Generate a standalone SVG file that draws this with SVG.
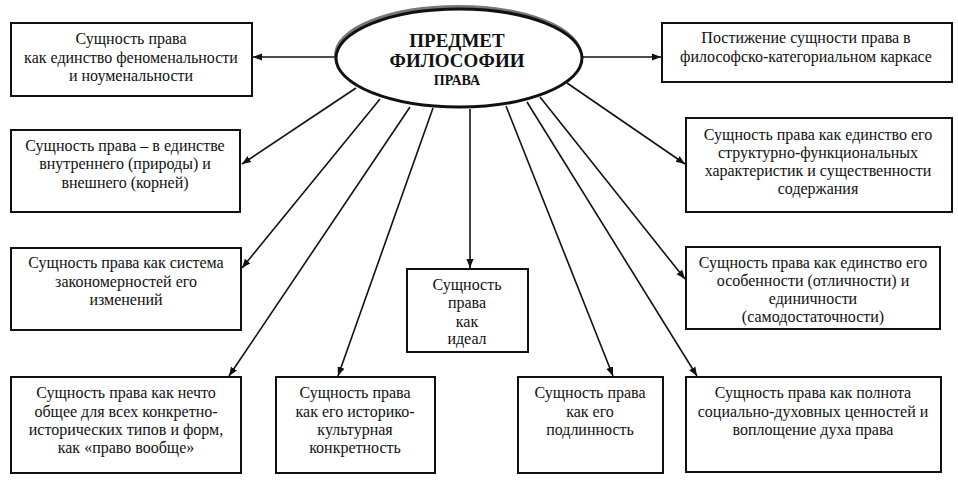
<svg xmlns="http://www.w3.org/2000/svg" width="958" height="494" viewBox="0 0 958 494">
<defs>
<marker id="ah" viewBox="0 0 10 10" refX="10" refY="5" markerWidth="9" markerHeight="9" markerUnits="userSpaceOnUse" orient="auto">
<path d="M0,1 L10,5 L0,9 Z" fill="#111"/>
</marker>
<style>
.box{fill:#fff;stroke:#111;stroke-width:2}
.t{font-family:"Liberation Serif","Times New Roman",serif;font-size:16px;fill:#111;text-anchor:middle}
.h{font-family:"Liberation Serif","Times New Roman",serif;font-weight:bold;fill:#111;text-anchor:middle}
.c{stroke:#111;stroke-width:1.6;fill:none;marker-end:url(#ah)}
</style>
</defs>
<rect width="958" height="494" fill="#fff"/>
<g id="connectors">
<line class="c" x1="336" y1="57" x2="253" y2="57"/>
<line class="c" x1="583" y1="57" x2="661" y2="57"/>
<line class="c" x1="356" y1="88" x2="242" y2="164"/>
<line class="c" x1="380" y1="99" x2="242" y2="268"/>
<line class="c" x1="410" y1="107" x2="229" y2="376"/>
<line class="c" x1="433" y1="108" x2="338" y2="376"/>
<line class="c" x1="470" y1="109" x2="470" y2="268"/>
<line class="c" x1="506" y1="106" x2="613" y2="376"/>
<line class="c" x1="527" y1="102" x2="697" y2="376"/>
<line class="c" x1="540" y1="97" x2="685" y2="279"/>
<line class="c" x1="567" y1="83" x2="685" y2="164"/>
</g>
<g id="center">
<ellipse cx="458" cy="55" rx="122" ry="48" fill="none" stroke="#777" stroke-width="4"/>
<ellipse cx="459" cy="58" rx="123" ry="49" fill="#fff" stroke="#111" stroke-width="3"/>
<text class="h" x="457" y="47" font-size="19">ПРЕДМЕТ</text>
<text class="h" x="457" y="67" font-size="19">ФИЛОСОФИИ</text>
<text class="h" x="457" y="85" font-size="14">ПРАВА</text>
</g>
<g id="n1">
<rect class="box" x="11" y="23" width="241" height="73"/>
<text class="t" x="131" y="44">Сущность права</text>
<text class="t" x="131" y="63">как единство феноменальности</text>
<text class="t" x="131" y="81">и ноуменальности</text>
</g>
<g id="n2">
<rect class="box" x="11" y="130" width="229" height="82"/>
<text class="t" x="125" y="151">Сущность права – в единстве</text>
<text class="t" x="125" y="169">внутреннего (природы) и</text>
<text class="t" x="125" y="188">внешнего (корней)</text>
</g>
<g id="n3">
<rect class="box" x="11" y="248" width="230" height="82"/>
<text class="t" x="126" y="268">Сущность права как система</text>
<text class="t" x="126" y="287">закономерностей его</text>
<text class="t" x="126" y="305">изменений</text>
</g>
<g id="n4">
<rect class="box" x="11" y="377" width="230" height="96"/>
<text class="t" x="126" y="398">Сущность права как нечто</text>
<text class="t" x="126" y="417">общее для всех конкретно-</text>
<text class="t" x="126" y="435">исторических типов и форм,</text>
<text class="t" x="126" y="453">как «право вообще»</text>
</g>
<g id="n5">
<rect class="box" x="276" y="377" width="159" height="96"/>
<text class="t" x="355" y="398">Сущность права</text>
<text class="t" x="355" y="417">как его историко-</text>
<text class="t" x="355" y="435">культурная</text>
<text class="t" x="355" y="453">конкретность</text>
</g>
<g id="n6">
<rect class="box" x="407" y="269" width="121" height="83"/>
<text class="t" x="467" y="290">Сущность</text>
<text class="t" x="467" y="308">права</text>
<text class="t" x="467" y="327">как</text>
<text class="t" x="467" y="344">идеал</text>
</g>
<g id="n7">
<rect class="box" x="518" y="377" width="145" height="96"/>
<text class="t" x="590" y="398">Сущность права</text>
<text class="t" x="590" y="417">как его</text>
<text class="t" x="590" y="435">подлинность</text>
</g>
<g id="n8">
<rect class="box" x="686" y="377" width="255" height="95"/>
<text class="t" x="813" y="398">Сущность права как полнота</text>
<text class="t" x="813" y="417">социально-духовных ценностей и</text>
<text class="t" x="813" y="435">воплощение духа права</text>
</g>
<g id="n9">
<rect class="box" x="686" y="247" width="254" height="82"/>
<text class="t" x="813" y="268">Сущность права как единство его</text>
<text class="t" x="813" y="286">особенности (отличности) и</text>
<text class="t" x="813" y="304">единичности</text>
<text class="t" x="813" y="322">(самодостаточности)</text>
</g>
<g id="n10">
<rect class="box" x="686" y="118" width="266" height="94"/>
<text class="t" x="818" y="140">Сущность права как единство его</text>
<text class="t" x="818" y="158">структурно-функциональных</text>
<text class="t" x="818" y="176">характеристик и существенности</text>
<text class="t" x="818" y="194">содержания</text>
</g>
<g id="n11">
<rect class="box" x="662" y="23" width="290" height="59"/>
<text class="t" x="806" y="43">Постижение сущности права в</text>
<text class="t" x="806" y="62">философско-категориальном каркасе</text>
</g>
</svg>
